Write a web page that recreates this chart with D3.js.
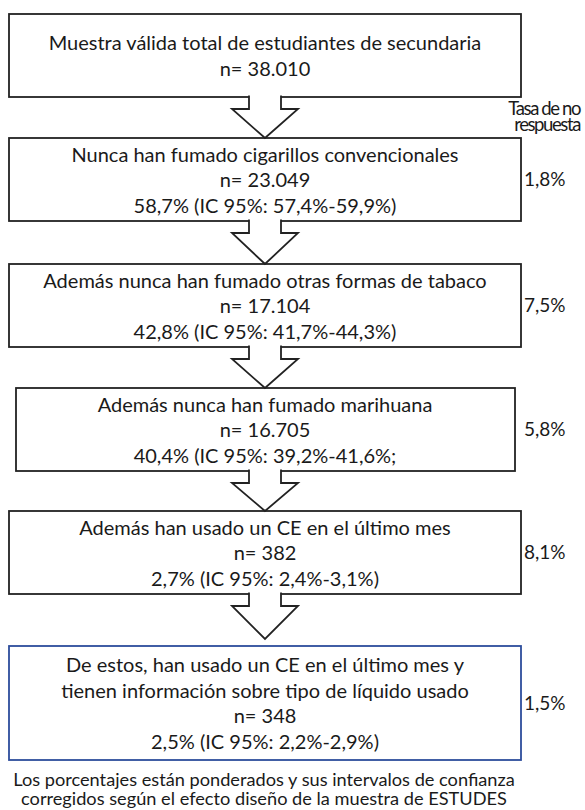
<!DOCTYPE html>
<html>
<head>
<meta charset="utf-8">
<script src="https://cdn.jsdelivr.net/npm/d3@7"></script>
<style>
  html, body { margin: 0; padding: 0; background: #fff; }
</style>
</head>
<body>
<div id="chart"></div>
<script>
// Flow of the sample, one entry per box
const titles = [
  ["Muestra válida total de estudiantes de secundaria"],
  ["Nunca han fumado cigarillos convencionales"],
  ["Además nunca han fumado otras formas de tabaco"],
  ["Además nunca han fumado marihuana"],
  ["Además han usado un CE en el último mes"],
  ["De estos, han usado un CE en el último mes y", "tienen información sobre tipo de líquido usado"],
];
const counts = ["38.010", "23.049", "17.104", "16.705", "382", "348"];
const percents = [null, "58,7%", "42,8%", "40,4%", "2,7%", "2,5%"];
const ciLower = [null, "57,4%", "41,7%", "39,2%", "2,4%", "2,2%"];
const ciUpper = [null, "59,9%", "44,3%", "41,6%", "3,1%", "2,9%"];
const ciClose = [null, ")", ")", ";", ")", ")"]; // box 4 closes with ";" in the original
const nonResponse = [null, "1,8%", "7,5%", "5,8%", "8,1%", "1,5%"];
const nonResponseTitle = ["Tasa de no", "respuesta"];
const footnote = [
  "Los porcentajes están ponderados y sus intervalos de confianza",
  "corregidos según el efecto diseño de la muestra de ESTUDES",
];

const width = 585;
const height = 810;
const font = "Lato, 'Open Sans', sans-serif";
const fontSize = 20;
const lineGap = 25.5;
const cx = 265;
const gaps = [41, 43, 41, 40, 52];

// build the lines of every box
const boxes = titles.map((t, i) => {
  const lines = [...t, "n= " + counts[i]];
  if (percents[i]) {
    lines.push(`${percents[i]} (IC 95%: ${ciLower[i]}-${ciUpper[i]}${ciClose[i]}`);
  }
  return { i, lines, nr: nonResponse[i] };
});

// vertical layout
let y = 14;
boxes.forEach((b, i) => {
  b.h = b.lines.length > 3 ? 114 : 83;
  b.y0 = y;
  b.y1 = y + b.h;
  b.x0 = i === 3 ? 16 : 9;
  b.x1 = i === 3 ? 515 : 521;
  y = b.y1 + (gaps[i] || 0);
});

d3.select("#chart").selectAll("*").remove();
const svg = d3
  .select("#chart")
  .append("svg")
  .attr("width", width)
  .attr("height", height)
  .attr("viewBox", [0, 0, width, height])
  .style("font-family", font)
  .style("font-size", fontSize + "px")
  .attr("fill", "#1a1a1a");

// boxes
svg
  .append("g")
  .selectAll()
  .data(boxes)
  .join("rect")
  .attr("x", (d) => d.x0)
  .attr("y", (d) => d.y0)
  .attr("width", (d) => d.x1 - d.x0)
  .attr("height", (d) => d.h)
  .attr("fill", "#fff")
  .attr("stroke", (d) => (d.i === boxes.length - 1 ? "#2d4d9c" : "#222"))
  .attr("stroke-width", 1.8);

// arrows between boxes
const line = d3.line();
svg
  .append("g")
  .selectAll()
  .data(d3.pairs(boxes))
  .join("path")
  .attr("d", ([a, b]) => {
    const top = a.y1 - 1.5;
    const sh = a.y1 + 12;
    const tip = Math.min(b.y0, a.y1 + 45);
    return line([
      [cx - 16, top], [cx - 16, sh], [cx - 33, sh], [cx, tip],
      [cx + 33, sh], [cx + 16, sh], [cx + 16, top],
    ]);
  })
  .attr("fill", "#fff")
  .attr("stroke", "#222")
  .attr("stroke-width", 1.8)
  .attr("stroke-linejoin", "miter");

// text inside the boxes
const text = svg.append("g").attr("text-anchor", "middle");
boxes.forEach((b) => {
  const mid = (b.y0 + b.y1) / 2;
  const n = b.lines.length;
  text
    .append("g")
    .selectAll()
    .data(b.lines)
    .join("text")
    .attr("x", cx)
    .attr("y", (d, k) => mid + (k - (n - 1) / 2) * lineGap + 7.5)
    .text((d) => d);
});

// non-response rates on the right
svg
  .append("g")
  .style("font-size", "19px")
  .selectAll()
  .data(boxes.filter((b) => b.nr))
  .join("text")
  .attr("x", 524)
  .attr("y", (d) => (d.y0 + d.y1) / 2 + 6.5)
  .text((d) => d.nr);

svg
  .append("g")
  .attr("text-anchor", "end")
  .style("font-size", "18.5px")
  .style("letter-spacing", "-1.4px")
  .selectAll()
  .data(nonResponseTitle)
  .join("text")
  .attr("x", 580)
  .attr("y", (d, k) => 115 + k * 16)
  .text((d) => d);

// footnote
svg
  .append("g")
  .attr("text-anchor", "middle")
  .style("font-size", "18.2px")
  .selectAll()
  .data(footnote)
  .join("text")
  .attr("x", 264)
  .attr("y", (d, k) => 786 + k * 19)
  .text((d) => d);
</script>
</body>
</html>
